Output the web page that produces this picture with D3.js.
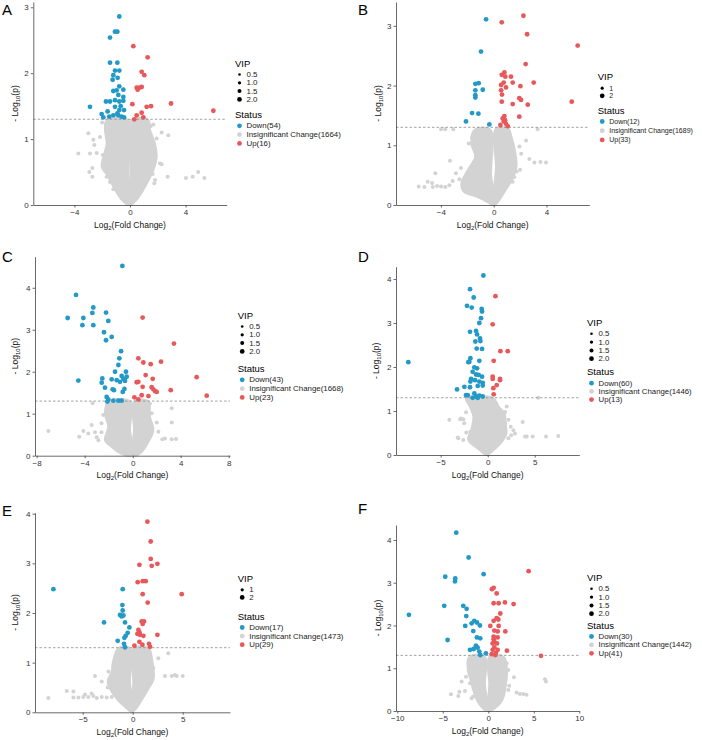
<!DOCTYPE html>
<html>
<head>
<meta charset="utf-8">
<script src="https://cdn.jsdelivr.net/npm/d3@7"></script>
<style>
  body { margin: 0; background: #fff; }
  svg { font-family: "Liberation Sans", Arial, sans-serif; }
</style>
</head>
<body>
<div id="wrapper"></div>
<script>
// ---- data: [log2FC, -log10 p] ----
const aDown = [[-0.77,2.86],[-1.08,2.63],[-0.91,2.63],[-1.44,2.54],[-1.44,2.16],[-0.91,2.16],[-1.08,2.04],[-0.77,2.04],[-1.2,1.97],[-1.25,1.9],[-0.89,1.93],[-0.77,1.8],[-0.48,1.75],[-1.2,1.73],[-0.96,1.74],[-0.84,1.67],[-0.48,1.64],[-1.73,1.57],[-1.44,1.57],[-1.08,1.59],[-0.77,1.57],[-0.48,1.58],[-2.88,1.49],[-1.61,1.42],[-1.08,1.49],[-0.77,1.44],[-0.43,1.44],[-2.04,1.38],[-1.92,1.33],[-1.49,1.34],[-1.2,1.36],[-0.84,1.36],[-0.6,1.34],[-0.43,1.33],[-0.67,1.5],[-0.91,1.39]];
const aUp = [[0.24,2.41],[1.27,2.24],[0.84,2.02],[1.03,1.97],[0.48,1.78],[0.67,1.78],[0.84,1.79],[0.55,1.75],[0.17,1.53],[1.2,1.49],[1.51,1.5],[2.95,1.54],[6.0,1.43],[0.84,1.4],[0.48,1.36],[0.96,1.33],[0.31,1.3]];
const aNs = [[-3.72,0.78],[-3.0,1.09],[-2.64,0.99],[-2.16,1.03],[-2.57,0.91],[-2.88,0.78],[-2.4,0.79],[-1.96,0.76],[-2.71,0.56],[-2.93,0.5],[-2.71,0.43],[-1.68,0.43],[-1.44,0.35],[-1.2,0.24],[-0.96,0.25],[-0.53,0.28],[1.68,1.22],[2.28,1.1],[2.76,1.06],[1.92,1.01],[2.16,0.63],[2.71,0.43],[4.03,0.41],[4.51,0.43],[4.91,0.5],[5.35,0.41],[1.8,0.38],[1.63,0.47],[1.75,0.33],[2.28,0.62],[-2.0,1.25],[-1.2,1.28],[0.9,1.27],[1.5,1.2]];
const aCore = [
  [[-1.68,1.29],[-1.8,1.14],[-1.68,0.93],[-1.92,0.73],[-2.04,0.58],[-1.56,0.43],[-1.08,0.23],[-0.6,0.08],[-0.1,0.0],[0.05,0.1],[-0.1,0.45],[-0.12,1.0],[-0.15,1.29]],
  [[0.08,1.29],[1.32,1.29],[1.44,1.14],[1.8,0.93],[1.92,0.73],[1.68,0.53],[1.32,0.37],[0.96,0.23],[0.48,0.08],[0.05,0.0],[-0.05,0.1],[0.05,0.45]]
];
const aStatus = ["Down(54)", "Insignificant Change(1664)", "Up(16)"];

const bDown = [[-0.58,3.11],[-0.96,2.57],[-1.39,2.03],[-1.14,2.04],[-1.39,1.92],[-0.83,1.93],[-1.39,1.84],[-1.39,1.8],[-1.64,1.54],[-1.16,1.53],[-2.1,1.4],[-0.33,1.35]];
const bUp = [[2.25,3.17],[0.61,3.06],[2.53,2.86],[6.36,2.67],[2.42,2.36],[3.03,2.05],[0.61,2.18],[0.81,2.22],[0.88,2.15],[1.31,2.15],[1.44,2.05],[0.76,2.05],[0.56,2.01],[0.93,1.97],[2.02,1.99],[0.56,1.92],[0.63,1.85],[1.94,1.79],[2.07,1.76],[0.61,1.73],[1.44,1.69],[2.58,1.68],[5.91,1.73],[1.94,1.48],[0.81,1.49],[0.68,1.45],[0.86,1.42],[0.51,1.34],[0.93,1.36],[1.06,1.32],[0.76,1.4]];
const bNs = [[-3.99,1.27],[-3.67,1.27],[-3.06,1.27],[3.33,1.27],[-3.31,0.74],[-4.42,0.53],[-4.67,0.37],[-5.0,0.39],[-5.68,0.31],[-5.25,0.3],[-4.62,0.3],[-4.29,0.32],[-3.99,0.31],[-3.67,0.3],[-3.36,0.33],[-2.86,0.53],[-2.48,0.62],[-2.6,0.43],[-3.11,0.4],[2.7,0.77],[3.08,0.71],[3.54,0.72],[3.96,0.71],[2.0,0.59],[1.74,0.56],[1.56,0.47],[1.43,0.39],[2.45,1.08],[1.95,0.98],[2.08,0.86],[-1.89,1.03],[-1.64,1.13],[-1.34,1.24],[-1.46,1.17]];
const bCore = [
  [[-1.45,1.26],[-1.7,1.03],[-1.4,0.81],[-1.95,0.59],[-2.45,0.36],[-2.25,0.22],[-1.3,0.14],[-0.46,0.05],[-0.08,0.0],[0.05,0.1],[-0.2,0.5],[-0.25,1.26]],
  [[0.17,1.28],[1.1,1.28],[1.35,1.14],[1.6,0.92],[1.72,0.64],[1.38,0.42],[0.9,0.25],[0.42,0.08],[0.05,0.0],[-0.05,0.1],[0.17,0.6]]
];
const bStatus = ["Down(12)", "Insignificant Change(1689)", "Up(33)"];

const cDown = [[-0.86,4.52],[-4.72,3.83],[-3.28,3.53],[-3.36,3.4],[-2.22,3.41],[-5.42,3.28],[-4.11,3.28],[-2.03,3.21],[-4.19,3.11],[-3.28,3.11],[-2.39,2.94],[-1.75,2.83],[-2.22,2.75],[-0.97,2.49],[-1.11,2.32],[-1.19,2.16],[-1.47,2.0],[-0.56,2.0],[-4.53,1.79],[-2.53,1.84],[-2.58,1.74],[-1.33,1.8],[-0.92,1.9],[-0.78,1.83],[-0.64,1.78],[-1.06,1.76],[-1.67,1.58],[-1.56,1.56],[-2.31,1.62],[-0.69,1.59],[-0.83,1.52],[-2.17,1.4],[-2.03,1.34],[-1.61,1.31],[-1.19,1.31],[-0.92,1.31],[-2.11,1.29],[-1.75,1.82],[-0.5,1.88]];
const cUp = [[0.83,3.29],[3.44,2.67],[0.47,2.32],[0.89,2.22],[1.5,2.18],[2.36,2.24],[1.08,1.92],[5.33,1.87],[0.47,1.76],[0.33,1.75],[1.67,1.83],[0.83,1.64],[1.58,1.63],[1.72,1.58],[1.86,1.54],[2.0,1.52],[3.17,1.56],[6.17,1.43],[0.14,1.39],[0.75,1.44],[1.31,1.42],[0.47,1.34]];
const cNs = [[-7.03,0.59],[-4.45,0.45],[-4.11,0.59],[-3.7,0.53],[-3.42,0.73],[-3.14,0.56],[-3.0,0.44],[-2.6,0.56],[-2.6,0.77],[-2.86,0.37],[-2.17,0.37],[-2.45,0.97],[-3.34,1.25],[3.25,1.13],[3.25,0.79],[3.25,0.39],[3.61,0.4],[2.47,0.39],[2.0,0.79],[1.58,1.01],[2.14,0.57],[1.44,1.24],[2.69,0.41]];
const cCore = [
  [[-2.03,1.29],[-2.31,1.01],[-2.03,0.69],[-2.31,0.37],[-1.75,0.21],[-1.06,0.06],[-0.2,0.0],[0.05,0.1],[-0.22,0.6],[-0.22,1.29]],
  [[0.11,1.29],[1.31,1.29],[1.44,0.93],[1.72,0.61],[1.31,0.33],[0.75,0.09],[0.11,0.0],[-0.05,0.1],[0.11,0.6]]
];
const cStatus = ["Down(43)", "Insignificant Change(1668)", "Up(23)"];

const dDown = [[-0.46,4.08],[-1.88,3.77],[-1.49,3.58],[-2.2,3.39],[-1.7,3.35],[-0.64,3.32],[-0.6,3.26],[-0.71,3.11],[-0.89,3.0],[-1.88,2.8],[-1.24,2.82],[-1.13,2.74],[-0.82,2.65],[-0.78,2.59],[-1.31,2.58],[-1.17,2.42],[-0.6,2.41],[-8.44,2.11],[-1.84,2.2],[-1.95,2.12],[-2.06,2.11],[-0.89,2.14],[-1.42,1.99],[-1.13,1.97],[-1.6,1.89],[-1.24,1.83],[-0.96,1.82],[-0.6,1.78],[-1.77,1.73],[-1.84,1.67],[-1.35,1.7],[-0.89,1.67],[-0.53,1.64],[-2.48,1.55],[-1.88,1.54],[-1.06,1.57],[-0.53,1.58],[-3.26,1.49],[-2.3,1.36],[-1.42,1.4],[-1.24,1.33],[-0.89,1.35],[-0.53,1.33],[-1.6,1.3],[-1.06,1.3],[-2.13,1.36]];
const dUp = [[0.82,3.61],[0.53,2.97],[1.35,2.36],[2.13,2.36],[0.64,2.14],[0.53,1.78],[0.53,1.73],[1.31,1.73],[1.31,1.7],[0.96,1.59],[0.6,1.52],[0.64,1.38]];
const dNs = [[5.38,1.3],[-4.08,0.8],[-2.92,0.81],[-2.5,0.72],[-3.12,0.38],[-2.28,0.51],[-1.85,0.53],[2.02,1.1],[1.85,0.98],[2.2,0.8],[1.85,0.72],[3.72,0.75],[2.9,0.49],[3.97,0.42],[4.15,0.42],[4.78,0.42],[6.2,0.42],[7.5,0.43],[2.45,0.64],[2.73,0.56],[-3.19,0.4],[-2.84,0.83],[-2.3,0.97],[-2.59,0.81],[2.5,0.45],[2.2,0.38],[-2.6,0.34]];
const dCore = [
  [[-2.3,1.29],[-1.88,1.09],[-1.52,0.87],[-1.75,0.57],[-2.1,0.36],[-1.6,0.23],[-0.82,0.11],[-0.11,0.0],[0.6,0.11],[1.5,0.3],[2.0,0.5],[1.9,0.72],[1.8,0.94],[1.2,1.09],[0.6,1.29]]
];
const dStatus = ["Down(60)", "Insignificant Change(1446)", "Up(13)"];

const eDown = [[-7.93,2.48],[-1.0,2.48],[-1.03,2.16],[-1.0,2.05],[-1.27,1.96],[-1.1,1.93],[-0.93,1.95],[-2.87,1.81],[-0.77,1.81],[-0.33,1.71],[-0.5,1.6],[-0.7,1.54],[-0.83,1.5],[-1.5,1.44],[-0.87,1.38],[-0.77,1.31]];
const eUp = [[1.47,3.84],[1.8,3.44],[1.8,3.09],[0.67,2.97],[1.9,2.95],[2.47,2.99],[0.5,2.62],[1.0,2.64],[1.3,2.64],[1.0,2.38],[4.9,2.38],[1.5,2.21],[0.9,1.83],[1.13,1.83],[1.0,1.78],[0.57,1.66],[0.67,1.61],[0.47,1.58],[0.73,1.56],[1.07,1.54],[2.47,1.56],[0.67,1.42],[0.17,1.34],[0.97,1.36],[1.63,1.38],[1.73,1.32]];
const eNs = [[-8.44,0.29],[-6.6,0.43],[-5.93,0.42],[-5.93,0.3],[-5.43,0.3],[-4.94,0.31],[-4.44,0.31],[-3.94,0.33],[-3.6,0.29],[-3.1,0.31],[-2.6,0.3],[-2.1,0.31],[-4.11,0.38],[-4.77,0.36],[-3.77,0.73],[-3.1,0.62],[-2.43,0.82],[-2.1,0.75],[-2.5,0.5],[3.23,0.73],[3.9,0.73],[4.23,0.75],[4.4,0.73],[5.0,0.73],[3.56,1.19],[2.56,1.09],[2.06,0.89]];
const eCore = [
  [[-1.44,1.29],[-2.0,0.99],[-2.1,0.82],[-2.5,0.62],[-2.2,0.45],[-1.5,0.25],[-0.6,0.08],[-0.1,0.0],[0.05,0.1],[-0.27,0.6],[-0.27,1.29]],
  [[0.06,1.29],[1.6,1.29],[1.95,1.05],[2.1,0.68],[1.5,0.45],[0.9,0.25],[0.23,0.05],[-0.1,0.0],[-0.05,0.1],[0.06,0.6]]
];
const eStatus = ["Down(17)", "Insignificant Change(1473)", "Up(29)"];

const fDown = [[-3.52,4.17],[-2.16,3.59],[-4.73,3.14],[-3.63,3.1],[-3.66,3.03],[-0.51,3.2],[-4.84,2.46],[-2.75,2.46],[-2.38,2.39],[-2.42,2.22],[-8.72,2.25],[-1.54,2.11],[-1.25,2.07],[-1.83,2.05],[-0.92,2.0],[-2.53,1.99],[-1.65,1.87],[-1.25,1.72],[-0.88,1.7],[-4.47,1.66],[-2.01,1.43],[-1.36,1.53],[-1.17,1.48],[-1.61,1.45],[-0.99,1.39],[-0.88,1.31],[-0.26,1.35]];
const fUp = [[4.43,3.27],[0.4,2.85],[0.59,2.88],[0.92,2.75],[0.59,2.52],[1.14,2.52],[2.78,2.5],[1.83,2.54],[1.32,2.28],[0.92,2.17],[0.59,2.11],[1.1,2.14],[0.22,1.99],[1.14,1.99],[1.87,1.86],[0.66,1.88],[1.03,1.86],[0.59,1.74],[0.59,1.68],[1.03,1.72],[0.66,1.62],[0.48,1.58],[0.95,1.58],[0.66,1.49],[0.48,1.43],[1.03,1.43],[0.84,1.36],[2.05,1.41],[5.79,1.29],[0.37,1.33],[0.77,1.31]];
const fNs = [[6.23,0.74],[6.34,0.69],[-4.1,0.39],[-3.18,0.45],[-3.29,0.35],[-2.56,0.47],[-2.45,0.8],[-2.01,0.65],[-2.93,0.69],[-1.83,0.3],[-1.66,0.34],[2.82,0.79],[3.48,0.4],[3.85,0.4],[4.2,0.38],[3.11,0.43],[2.3,0.59],[2.2,0.49],[2.2,0.96],[2.03,1.11]];
const fCore = [
  [[-2.1,1.27],[-2.25,0.96],[-1.95,0.73],[-1.6,0.45],[-1.05,0.18],[-0.18,0.0],[0.0,0.1],[-0.37,0.6],[-0.37,1.27]],
  [[0.11,1.27],[1.7,1.27],[2.05,0.96],[1.9,0.57],[1.55,0.26],[0.55,0.04],[0.0,0.0],[-0.05,0.1],[0.11,0.6]]
];
const fStatus = ["Down(30)", "Insignificant Change(1442)", "Up(41)"];

const vipFour = ["0.5", "1.0", "1.5", "2.0"];
const vipTwo = ["1", "2"];
const threshold = -Math.log10(0.05);

const colBlue = "#2299c6";
const colRed = "#e8585a";
const colGrey = "#d3d3d3";

// ---- layout (pixels) ----
const panels = [
  { id: "A", down: aDown, up: aUp, ns: aNs, core: aCore, status: aStatus, vip: vipFour,
    xDom: [-6.96, 6.96], yDom: [0, 3.08], xTicks: [-4, 0, 4], yTicks: [0, 1, 2, 3],
    left: 33.3, right: 226.7, top: 2, bottom: 205, letter: [2, 15], yTitleX: 15,
    legX: 235, vipY: 63, statY: 114.3, statStep: 8.8, legFont: 7.9 },
  { id: "B", down: bDown, up: bUp, ns: bNs, core: bCore, status: bStatus, vip: vipTwo,
    xDom: [-7.4, 7.24], yDom: [0, 3.4], xTicks: [-4, 0, 4], yTicks: [0, 1, 2, 3],
    left: 396, right: 589.3, top: 2, bottom: 205, letter: [358, 15], yTitleX: 377.7,
    legX: 597.7, vipY: 76.7, statY: 110, statStep: 9.2, legFont: 7.0 },
  { id: "C", down: cDown, up: cUp, ns: cNs, core: cCore, status: cStatus, vip: vipFour,
    xDom: [-8.14, 8.11], yDom: [0, 4.74], xTicks: [-8, -4, 0, 4, 8], yTicks: [0, 1, 2, 3, 4],
    left: 35, right: 230, top: 256.7, bottom: 455.7, letter: [2, 262], yTitleX: 15,
    legX: 237.7, vipY: 315, statY: 368.3, statStep: 8.8, legFont: 7.9 },
  { id: "D", down: dDown, up: dUp, ns: dNs, core: dCore, status: dStatus, vip: vipFour,
    xDom: [-9.75, 9.74], yDom: [0, 4.28], xTicks: [-5, 0, 5], yTicks: [0, 1, 2, 3, 4],
    left: 396, right: 579.3, top: 266.7, bottom: 455, letter: [358, 262], yTitleX: 376,
    legX: 587, vipY: 322.3, statY: 371.7, statStep: 8.2, legFont: 7.8 },
  { id: "E", down: eDown, up: eUp, ns: eNs, core: eCore, status: eStatus, vip: vipTwo,
    xDom: [-9.77, 9.73], yDom: [0, 4.02], xTicks: [-5, 0, 5], yTicks: [0, 1, 2, 3, 4],
    left: 35, right: 230, top: 512.7, bottom: 712.3, letter: [2, 516], yTitleX: 15,
    legX: 237.7, vipY: 578.3, statY: 616, statStep: 8.6, legFont: 7.9 },
  { id: "F", down: fDown, up: fUp, ns: fNs, core: fCore, status: fStatus, vip: vipFour,
    xDom: [-10.14, 10.0], yDom: [0, 4.35], xTicks: [-10, -5, 0, 5, 10], yTicks: [0, 1, 2, 3, 4],
    left: 396, right: 579.3, top: 525, bottom: 711, letter: [358, 514], yTitleX: 377.7,
    legX: 587, vipY: 577.3, statY: 625, statStep: 8.4, legFont: 7.8 }
];

const svg = d3.select("#wrapper")
  .append("svg")
  .attr("width", 702)
  .attr("height", 740);

svg.append("rect").attr("width", 702).attr("height", 740).attr("fill", "#fff");

const tickFmt = d3.format("~g");

function drawPanel(p) {
  const g = svg.append("g");
  const x = d3.scaleLinear().domain(p.xDom).range([p.left, p.right]);
  const y = d3.scaleLinear().domain(p.yDom).range([p.bottom, p.top]);

  // dense cloud of insignificant points
  const blob = d3.line()
    .x(d => x(d[0]))
    .y(d => y(d[1]))
    .curve(d3.curveCatmullRomClosed.alpha(0.5));
  g.selectAll(".core")
    .data(p.core)
    .join("path")
    .attr("d", blob)
    .attr("fill", colGrey)
    .attr("stroke", colGrey)
    .attr("stroke-width", 2)
    .attr("stroke-linejoin", "round");

  g.selectAll(".ns")
    .data(p.ns)
    .join("circle")
    .attr("cx", d => x(d[0]))
    .attr("cy", d => y(d[1]))
    .attr("r", 2)
    .attr("fill", colGrey);

  g.append("line")
    .attr("x1", p.left).attr("x2", p.right)
    .attr("y1", y(threshold)).attr("y2", y(threshold))
    .attr("stroke", "#8c8c8c")
    .attr("stroke-width", 0.8)
    .attr("stroke-dasharray", "2.5,2");

  g.selectAll(".dn")
    .data(p.down)
    .join("circle")
    .attr("cx", d => x(d[0]))
    .attr("cy", d => y(d[1]))
    .attr("r", 2.4)
    .attr("fill", colBlue);

  g.selectAll(".up")
    .data(p.up)
    .join("circle")
    .attr("cx", d => x(d[0]))
    .attr("cy", d => y(d[1]))
    .attr("r", 2.4)
    .attr("fill", colRed);

  // axes
  const xAxis = g.append("g")
    .attr("transform", `translate(0,${p.bottom})`)
    .call(d3.axisBottom(x).tickValues(p.xTicks).tickFormat(tickFmt)
      .tickSizeInner(2.5).tickSizeOuter(0).tickPadding(2));
  const yAxis = g.append("g")
    .attr("transform", `translate(${p.left},0)`)
    .call(d3.axisLeft(y).tickValues(p.yTicks).tickFormat(tickFmt)
      .tickSizeInner(2.5).tickSizeOuter(0).tickPadding(2));
  [xAxis, yAxis].forEach(a => {
    a.select(".domain").attr("stroke", "#444").attr("stroke-width", 0.8);
    a.selectAll(".tick line").attr("stroke", "#444").attr("stroke-width", 0.8);
    a.selectAll(".tick text").attr("fill", "#333").style("font-size", "8px")
      .style("font-family", "Liberation Sans, Arial, sans-serif");
  });

  // axis titles
  const cx = (p.left + p.right) / 2;
  const xt = g.append("text")
    .attr("x", cx)
    .attr("y", p.bottom + 22.5)
    .attr("text-anchor", "middle")
    .style("font-size", "8.5px")
    .attr("fill", "#111");
  xt.append("tspan").text("Log");
  xt.append("tspan").attr("dy", 2).style("font-size", "6px").text("2");
  xt.append("tspan").attr("dy", -2).text("(Fold Change)");

  const cy = (p.top + p.bottom) / 2;
  const yt = g.append("text")
    .attr("transform", `translate(${p.yTitleX + 3},${cy}) rotate(-90)`)
    .attr("text-anchor", "middle")
    .style("font-size", "8.5px")
    .attr("fill", "#111");
  yt.append("tspan").text("- Log");
  yt.append("tspan").attr("dy", 2).style("font-size", "6px").text("10");
  yt.append("tspan").attr("dy", -2).text("(p)");

  // panel letter
  g.append("text")
    .attr("x", p.letter[0])
    .attr("y", p.letter[1])
    .style("font-size", "15px")
    .attr("fill", "#000")
    .text(p.id);

  // legend
  const lg = g.append("g").style("font-size", p.legFont + "px");
  lg.append("text")
    .attr("x", p.legX).attr("y", p.vipY)
    .attr("dominant-baseline", "central")
    .style("font-size", "9.5px")
    .text("VIP");
  const vipR = p.vip.length === 4 ? [1.3, 1.65, 2.0, 2.35] : [1.6, 2.35];
  const vipStep = p.vip.length === 4 ? 8.3 : 7.6;
  p.vip.forEach((v, i) => {
    const yy = p.vipY + 11.5 + i * vipStep;
    lg.append("circle").attr("cx", p.legX + 4.5).attr("cy", yy).attr("r", vipR[i]).attr("fill", "#000");
    lg.append("text").attr("x", p.legX + 11.5).attr("y", yy)
      .attr("dominant-baseline", "central").attr("fill", "#222").text(v);
  });
  lg.append("text")
    .attr("x", p.legX).attr("y", p.statY)
    .attr("dominant-baseline", "central")
    .style("font-size", "9.5px")
    .text("Status");
  const statCols = [colBlue, colGrey, colRed];
  p.status.forEach((s, i) => {
    const yy = p.statY + 11.5 + i * p.statStep;
    lg.append("circle").attr("cx", p.legX + 4.5).attr("cy", yy).attr("r", 2.4).attr("fill", statCols[i]);
    lg.append("text").attr("x", p.legX + 11.5).attr("y", yy)
      .attr("dominant-baseline", "central").attr("fill", "#222").text(s);
  });
}

panels.forEach(drawPanel);
</script>
</body>
</html>
